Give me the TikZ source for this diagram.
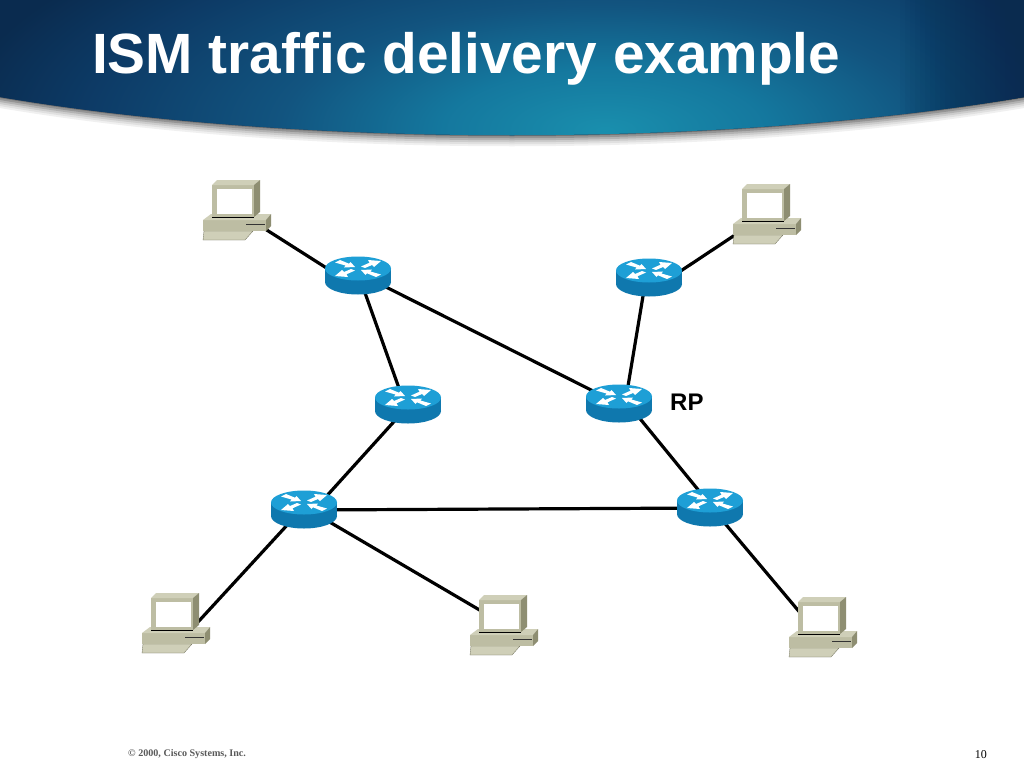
\documentclass[tikz,border=0pt]{standalone}
\usepackage{fontspec}
\usetikzlibrary{calc}
\setmainfont{Liberation Sans}
\newfontfamily\serifft{Liberation Serif}
\definecolor{rtop}{HTML}{1E9FD6}
\definecolor{rside}{HTML}{0F78AE}
\definecolor{cfront}{HTML}{BDBDA3}
\definecolor{ctop}{HTML}{CFCFB8}
\definecolor{cside}{HTML}{8E8E72}
\definecolor{cedge}{HTML}{6E6E58}
\definecolor{hdrdark}{rgb}{0.04,0.17,0.31}
\pgfdeclareradialshading{hdrshade}{\pgfpoint{0bp}{0bp}}{%
 rgb(0bp)=(0.10,0.56,0.68);
 rgb(6.25bp)=(0.08,0.47,0.62);
 rgb(12.5bp)=(0.07,0.33,0.50);
 rgb(20bp)=(0.05,0.23,0.40);
 rgb(25bp)=(0.04,0.17,0.31);
 rgb(50bp)=(0.04,0.17,0.31)}
\tikzset{
 x=1pt,y=-1pt,
 link/.style={line width=3.2pt,black},
 anchorpt/.style={inner sep=0pt,minimum size=0pt,outer sep=0pt},
 router/.pic={
  \fill[rside] (0,6) ellipse[x radius=33,y radius=12.5];
  \fill[rside] (-33,-7.5) rectangle (33,6);
  \fill[rtop] (0,-7.5) ellipse[x radius=33,y radius=12];
  \begin{scope}[shift={(0,-7.5)}]
   \foreach \s in {1,-1}{
    \fill[white,xscale=\s,yscale=\s]
      (3,-2) -- (7,-0.5) -- (14,-3.5) -- (16,-1.5) -- (23,-7.5) -- (10,-8.5) -- (11.5,-5.8) -- cycle;
    \fill[white,xscale=-\s,yscale=\s]
      (3,-1.5) -- (14,-1) -- (12.5,-3) -- (23,-6) -- (18,-8.5) -- (9,-4.8) -- (7.5,-6.5) -- cycle;
   }
  \end{scope}
 },
 computer/.pic={
  \fill[ctop,draw=cedge,line width=.3pt] (1,51) -- (50,51) -- (42,60) -- (0,60) -- cycle;
  \fill[cfront] (0,40) rectangle (63,51);
  \fill[ctop] (0,40) -- (8,34) -- (68,34) -- (63,40) -- cycle;
  \fill[cside] (63,40) -- (68,34) -- (68,46) -- (63,51) -- cycle;
  \draw[black!80,line width=1pt] (43,44) -- (62,44);
  \fill[cfront] (9,5) rectangle (51,37);
  \fill[ctop] (9,5) -- (14,0) -- (57,0) -- (51,5) -- cycle;
  \fill[cside] (51,5) -- (57,0) -- (57,32) -- (51,37) -- cycle;
  \fill[white] (14,9) rectangle (49,34);
  \draw[black,line width=.8pt] (9,37.5) -- (51,37.5);
 }
}
\begin{document}
\begin{tikzpicture}
\useasboundingbox (0,0) rectangle (1024,768);
\fill[white] (0,0) rectangle (1024,768);
% header shadow (soft edge under the band)
\foreach \d/\g in {11/6,9/12,7/20,5/30,3/42,1/55}{
 \fill[black!\g] (0,90) -- (0,97+\d) .. controls (300,148+\d) and (724,148+\d) .. (1024,97+\d) -- (1024,90) -- cycle;
}
\begin{scope}
 \clip (0,0) -- (1024,0) -- (1024,97) .. controls (724,148) and (300,148) .. (0,97) -- cycle;
 \fill[hdrdark] (0,0) rectangle (1024,160);
 \shade[shading=hdrshade] (605,130) ellipse[x radius=650,y radius=250];
 \foreach \x in {900,905,...,1020}{
  \fill[hdrdark,opacity=.05] (\x,0) rectangle (1024,160);
 }
\end{scope}
\node[anchor=base west,inner sep=0pt,text=white,font=\fontsize{56.8}{60}\selectfont\bfseries] (title) at (92,74) {ISM traffic delivery example};
\node[anchorpt] (r1) at (358,276) {};
\node[anchorpt] (r2) at (649,278) {};
\node[anchorpt] (r3) at (408,405) {};
\node[anchorpt] (r4) at (619,404) {};
\node[anchorpt] (r5) at (304,510) {};
\node[anchorpt] (r6) at (710,508) {};
\node[anchorpt] (c1) at (262,227) {};
\node[anchorpt] (c2) at (738,233) {};
\node[anchorpt] (c3) at (198,622) {};
\node[anchorpt] (c4) at (483,612) {};
\node[anchorpt] (c5) at (802,615) {};
\draw[link] (c1) -- ($(r1)+(0,12)$);
\draw[link] (c2) -- ($(r2)+(0,14)$);
\draw[link] ($(r1)+(1,0)$) -- ($(r3)+(-3,0)$);
\draw[link] ($(r1)+(0,-3)$) -- (r4);
\draw[link] ($(r2)+(-3,0)$) -- ($(r4)+(6,0)$);
\draw[link] ($(r3)+(1,0)$) -- ($(r5)+(10,0)$);
\draw[link] ($(r4)+(9,0)$) -- ($(r6)+(3,0)$);
\draw[link] (r5) -- (r6);
\draw[link] ($(r5)+(-3,0)$) -- (c3);
\draw[link] ($(r5)+(0,-3)$) -- (c4);
\draw[link] ($(r6)+(2,0)$) -- (c5);
\foreach \p in {(358,276),(649,278),(408,405),(619,404),(304,510),(710,508)} \pic at \p {router};
\foreach \p in {(203,180),(733,184),(142,593),(470,595),(789,597)} \pic at \p {computer};
\node[anchor=base west,inner sep=0pt,font=\fontsize{24}{26}\selectfont\bfseries] (rp) at (670,410) {RP};
\node[anchor=base west,inner sep=0pt,font=\serifft\fontsize{10.1}{12}\selectfont\bfseries,text=black!65] (copy) at (128,756) {© 2000, Cisco Systems, Inc.};
\node[anchor=base east,inner sep=0pt,font=\serifft\fontsize{12}{15}\selectfont] (pg) at (987,758) {10};
\end{tikzpicture}
\end{document}
